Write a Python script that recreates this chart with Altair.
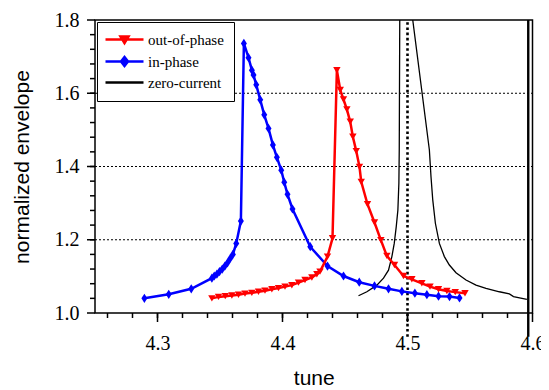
import altair as alt
import pandas as pd

# ---- data ----
in_x = [4.2895, 4.309, 4.327, 4.3435, 4.3454, 4.3475, 4.3496, 4.3518, 4.3539, 4.356,
        4.3582, 4.3603, 4.363, 4.3667, 4.3691, 4.3728, 4.3755, 4.3768, 4.379, 4.3822,
        4.3854, 4.3888, 4.3923, 4.3955, 4.399, 4.4014, 4.404, 4.408, 4.4222, 4.436,
        4.4488, 4.4614, 4.4736, 4.4848, 4.4955, 4.5059, 4.5155, 4.5248, 4.5336, 4.5416]
in_y = [1.040, 1.051, 1.066, 1.095, 1.101, 1.106, 1.113, 1.120, 1.128, 1.137,
        1.149, 1.160, 1.190, 1.251, 1.736, 1.697, 1.663, 1.650, 1.623, 1.582,
        1.541, 1.504, 1.459, 1.425, 1.390, 1.357, 1.324, 1.284, 1.181, 1.128,
        1.101, 1.084, 1.074, 1.066, 1.059, 1.054, 1.050, 1.046, 1.045, 1.041]

out_x = [4.3435, 4.3488, 4.3542, 4.3595, 4.3648, 4.370, 4.3755, 4.3808, 4.386, 4.3915,
         4.3968, 4.402, 4.4075, 4.4128, 4.418, 4.4235, 4.4275, 4.43, 4.436, 4.44,
         4.4435, 4.4462, 4.4488, 4.4515, 4.4542, 4.4563, 4.459, 4.4616, 4.463, 4.468,
         4.4736, 4.4787, 4.4835, 4.4896, 4.4968, 4.5035, 4.5115, 4.518, 4.5248, 4.5315,
         4.5382, 4.546]
out_y = [1.040, 1.044, 1.046, 1.048, 1.050, 1.053, 1.055, 1.058, 1.061, 1.065,
         1.068, 1.072, 1.076, 1.083, 1.090, 1.097, 1.106, 1.113, 1.154, 1.204,
         1.663, 1.609, 1.583, 1.556, 1.522, 1.481, 1.442, 1.399, 1.358, 1.297,
         1.247, 1.199, 1.156, 1.131, 1.101, 1.092, 1.081, 1.072, 1.065, 1.060,
         1.057, 1.054]

zc_left_x = [4.4608, 4.4675, 4.4755, 4.4808, 4.4848, 4.4875, 4.4894, 4.491, 4.4923,
             4.4931, 4.4934, 4.4938]
zc_left_y = [1.047, 1.058, 1.076, 1.095, 1.117, 1.154, 1.190, 1.236, 1.281,
             1.354, 1.445, 1.8]
zc_right_x = [4.5042, 4.5175, 4.5188, 4.5202, 4.5223, 4.5255, 4.5295, 4.5335, 4.5388,
              4.5468, 4.5548, 4.5628, 4.5735, 4.5815, 4.5848, 4.5955]
zc_right_y = [1.8, 1.445, 1.372, 1.309, 1.245, 1.190, 1.154, 1.131, 1.110,
              1.090, 1.076, 1.067, 1.058, 1.052, 1.045, 1.037]

marker_lines_x = [4.5, 4.5966]          # dotted line at 4.5, solid thick line near 4.6
x_major = [4.3, 4.4, 4.5, 4.6]
x_minor = [round(4.26 + 0.02 * i, 2) for i in range(17)]
y_major = [1.0, 1.2, 1.4, 1.6, 1.8]
y_minor = [round(1.04 + 0.04 * i, 2) for i in range(19)]
y_grid = [1.2, 1.4, 1.6]

names = ["out-of-phase", "in-phase", "zero-current"]
colors = ["#ff0000", "#0000ff", "#000000"]

X_MIN, X_MAX = 4.25, 4.6
Y_MIN, Y_MAX = 1.0, 1.8
W, H = 437.5, 293
px_x = (X_MAX - X_MIN) / W
px_y = (Y_MAX - Y_MIN) / H

# ---- tables ----
df_in = pd.DataFrame({"tune": in_x, "env": in_y})
df_out = pd.DataFrame({"tune": out_x, "env": out_y})
df_zc = pd.concat([
    pd.DataFrame({"tune": zc_left_x, "env": zc_left_y, "branch": "left", "o": range(len(zc_left_x))}),
    pd.DataFrame({"tune": zc_right_x, "env": zc_right_y, "branch": "right", "o": range(len(zc_right_x))}),
])
df_vl = pd.DataFrame({"tune": marker_lines_x, "env": [0.935, 0.935], "env_top": [1.8, 1.8],
                      "kind": ["dotted", "solid"]})
df_grid = pd.DataFrame({"env": y_grid, "tune": X_MIN, "tune_end": X_MAX})
df_leg = pd.DataFrame({"series": names, "tune": [4.3] * 3, "env": [1.2] * 3})
df_xt = pd.concat([
    pd.DataFrame({"tune": x_major, "env": Y_MIN, "env_end": Y_MIN - 9 * px_y}),
    pd.DataFrame({"tune": x_minor, "env": Y_MIN, "env_end": Y_MIN - 5 * px_y}),
], ignore_index=True)
df_yt = pd.concat([
    pd.DataFrame({"env": y_major, "tune": X_MIN, "tune_end": X_MIN - 8 * px_x}),
    pd.DataFrame({"env": y_minor, "tune": X_MIN, "tune_end": X_MIN - 5 * px_x}),
], ignore_index=True)

xs = alt.Scale(domain=[X_MIN, X_MAX], nice=False, zero=False)
ys = alt.Scale(domain=[Y_MIN, Y_MAX], nice=False, zero=False)

SERIF = "Times New Roman, Liberation Serif, serif"
SANS = "Liberation Sans, Arial, sans-serif"

common = dict(labelFont=SERIF, labelFontSize=20, labelColor="#000000",
              titleFont=SANS, titleFontSize=21, titleFontWeight="normal", titleColor="#000000",
              domain=False, ticks=False, grid=False)

x_axis = alt.Axis(values=x_major, format=".1f", labelPadding=20,
                  labelFlush=False, labelOverlap=False, title="tune", orient="bottom",
                  titleY=65, titleBaseline="middle", **common)
y_axis = alt.Axis(values=y_major, format=".1f", labelPadding=16,
                  labelOverlap=False, labelFlush=False, title="normalized envelope",
                  orient="left", titleX=-73, titleY=146.5, titleBaseline="middle",
                  titleAlign="center", titleAngle=270, **common)

X = lambda: alt.X("tune:Q", scale=xs)
Y = lambda: alt.Y("env:Q", scale=ys)

# dotted horizontal grid lines
grid = alt.Chart(df_grid).mark_rule(color="black", strokeWidth=1, strokeDash=[2, 2]).encode(
    y=Y(), x=X(), x2="tune_end:Q")

# tick marks, drawn through the scales just outside the plot frame
xticks = alt.Chart(df_xt).mark_rule(color="black", strokeWidth=1.5, clip=False).encode(
    x=X(), y=Y(), y2="env_end:Q")
yticks = alt.Chart(df_yt).mark_rule(color="black", strokeWidth=1.5, clip=False).encode(
    y=Y(), x=X(), x2="tune_end:Q")

dotted = alt.Chart(df_vl).transform_filter("datum.kind == 'dotted'").mark_rule(
    color="black", strokeWidth=2.6, strokeDash=[2.6, 2.6]).encode(
    x=X(), y=Y(), y2="env_top:Q")
solid = alt.Chart(df_vl).transform_filter("datum.kind == 'solid'").mark_rule(
    color="black", strokeWidth=2.4).encode(
    x=X(), y=Y(), y2="env_top:Q")

zc = alt.Chart(df_zc).mark_line(color="black", strokeWidth=1.3, clip=True).encode(
    x=alt.X("tune:Q", scale=xs, axis=x_axis),
    y=alt.Y("env:Q", scale=ys, axis=y_axis),
    detail="branch:N", order="o:Q")

out_line = alt.Chart(df_out).mark_line(color="#ff0000", strokeWidth=2.5).encode(x=X(), y=Y())
out_pts = alt.Chart(df_out).mark_point(shape="triangle-down", filled=True, color="#ff0000",
                                       size=55, opacity=1).encode(x=X(), y=Y())
diamond = "M0,-1L0.65,0L0,1L-0.65,0Z"
in_line = alt.Chart(df_in).mark_line(color="#0000ff", strokeWidth=2.5).encode(x=X(), y=Y())
in_pts = alt.Chart(df_in).mark_point(shape=diamond, filled=True, color="#0000ff",
                                     size=85, opacity=1).encode(x=X(), y=Y())

leg_paths = [
    "M-1.8,0L5.8,0M1.2,-0.6L2.8,-0.6L2.0,0.7Z",
    "M-1.8,0L5.8,0M2.0,-0.9L2.7,0L2.0,0.9L1.3,0Z",
    "M-1.8,0L5.8,0",
]
leg = alt.Legend(title=None, orient="none", legendX=2, legendY=2, strokeColor="black",
                 fillColor="white", padding=10, labelFont=SERIF, labelFontSize=15,
                 labelColor="black", symbolSize=100, labelOffset=26, rowPadding=4,
                 symbolOpacity=1)
legend_layer = alt.Chart(df_leg).transform_filter("false").mark_point(filled=False, opacity=1).encode(
    x=X(), y=Y(),
    color=alt.Color("series:N", scale=alt.Scale(domain=names, range=colors), legend=leg),
    fill=alt.Fill("series:N", scale=alt.Scale(domain=names, range=colors), legend=leg),
    shape=alt.Shape("series:N", scale=alt.Scale(domain=names, range=leg_paths), legend=leg),
    strokeWidth=alt.StrokeWidth("series:N", scale=alt.Scale(domain=names, range=[2.5, 2.5, 1.3]),
                                legend=leg),
)

chart = alt.layer(
    zc, grid, dotted, solid, xticks, yticks,
    in_line, in_pts, out_line, out_pts, legend_layer
).properties(
    width=W, height=H,
    autosize=alt.AutoSizeParams(type="none"),
    padding={"left": 87, "top": 12, "right": 8, "bottom": 77},
).configure_view(stroke="black", strokeWidth=1.5)

chart.save("out.html", embed_options={"renderer": "svg", "actions": False})
